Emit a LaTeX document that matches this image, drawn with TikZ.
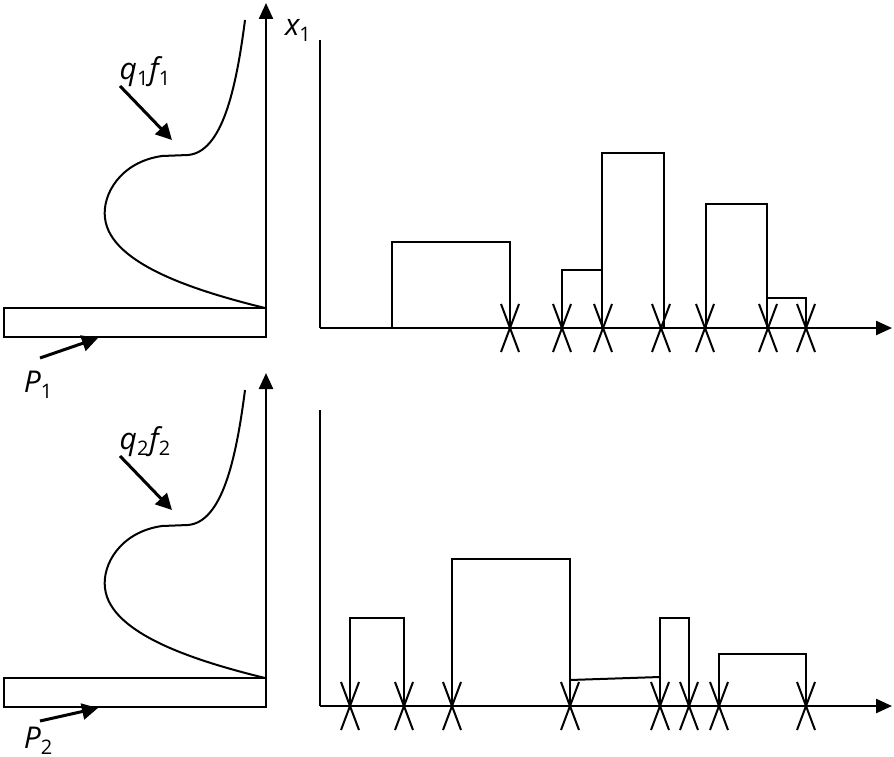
\documentclass[tikz,border=0pt]{standalone}
\usepackage{fontspec}
\setmainfont{Open Sans}
\usetikzlibrary{arrows.meta}
\tikzset{ln/.style={line width=2.4pt,black},
 thin/.style={line width=2pt,black},
 ax/.style={ln,-{Triangle[length=16pt,width=14pt]}},
 pt/.style={line width=3pt,-{Triangle[length=16pt,width=16pt]}},
 lab/.style={font=\fontsize{30}{32}\selectfont\itshape,inner sep=0pt},
 cross/.style={line width=2pt}}
\newcommand{\sbs}[1]{\raisebox{-6pt}{\fontsize{20}{22}\selectfont\upshape #1}}
\newcommand{\xmark}[1]{\draw[cross] (#1-9,-24)--(#1+9,24) (#1+9,-24)--(#1-9,24);}
\begin{document}
\begin{tikzpicture}[x=1pt,y=-1pt]
\useasboundingbox (0,0) rectangle (894,757);
\foreach \dy/\q/\pdy in {0/1/0,370/2/-14}{
\begin{scope}[yshift=-\dy pt]
 \draw[ax] (266,308) -- (266,3);
 \draw[thin] (4,308) rectangle (266,337);
 \draw[thin] (245,20) .. controls (236,90) and (222,152) .. (188,155) -- (162,156) .. controls (120,162) and (102,195) .. (105,218) .. controls (110,265) and (200,292) .. (265,308);
 \node[lab] (q\q) at (145,72) {q\sbs{\q}\kern1pt f\sbs{\q}};
 \coordinate (qa\q) at (120,86);
 \coordinate (qb\q) at (172,140);
 \draw[pt] (qa\q) -- (qb\q);
 \node[lab] (p\q) at (38,385+\pdy) {P\sbs{\q}};
 \coordinate (pa\q) at (40,358+\pdy/2);
 \coordinate (pb\q) at (98,338);
 \draw[pt] (pa\q) -- (pb\q);
\end{scope}}
\node[lab] (x1) at (298,30) {x\sbs{1}};
% top right
\draw[ln] (320,40) -- (320,328);
\draw[ax] (320,328) -- (892,328);
\draw[thin] (392,328) |- (510,242) -- (510,328);
\draw[thin] (562,328) |- (602,270);
\draw[thin] (602,328) |- (664,153) -- (664,328);
\draw[thin] (706,328) |- (767,204) -- (767,328);
\draw[thin] (767,298) -- (806,298) -- (806,328);
\begin{scope}[yshift=-328pt]
\foreach \x in {510,562,603,661,705,768,806}{\xmark{\x}}
\end{scope}
% bottom right
\draw[ln] (320,410) -- (320,706);
\draw[ax] (320,706) -- (892,706);
\draw[thin] (350,706) |- (404,618) -- (404,706);
\draw[thin] (452,706) |- (570,559) -- (570,706);
\draw[thin] (570,680) -- (660,677);
\draw[thin] (660,706) |- (689,618) -- (689,706);
\draw[thin] (719,706) |- (806,654) -- (806,706);
\begin{scope}[yshift=-706pt]
\foreach \x in {350,404,452,570,660,689,719,806}{\xmark{\x}}
\end{scope}
\end{tikzpicture}
\end{document}
